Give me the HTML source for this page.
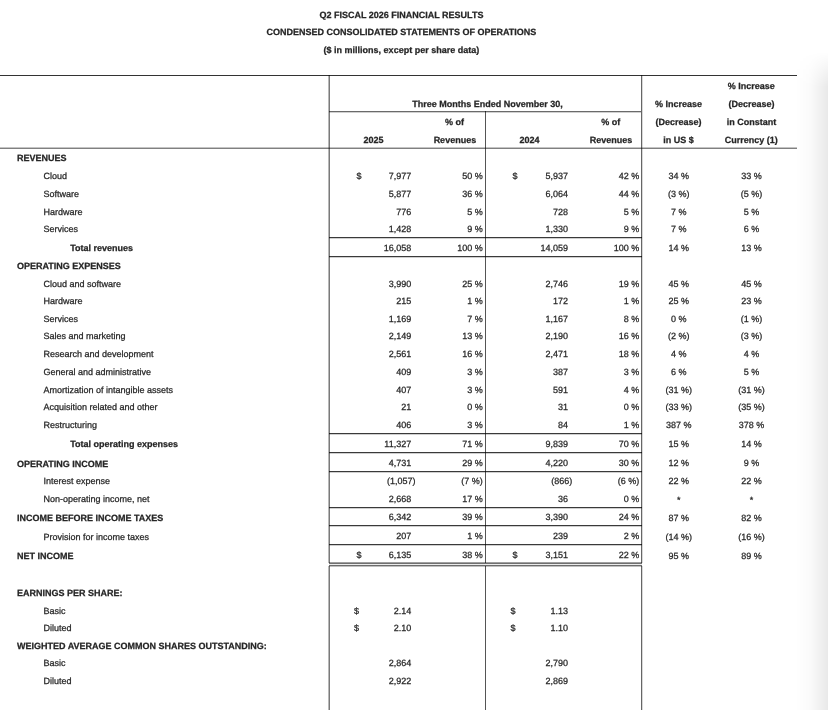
<!DOCTYPE html>
<html><head><meta charset="utf-8"><style>
html,body{margin:0;padding:0;}
body{width:828px;height:710px;position:relative;overflow:hidden;background:#fff;}
.t{position:absolute;font-family:"Liberation Sans",sans-serif;font-size:9px;line-height:10px;white-space:pre;color:#262626;text-rendering:geometricPrecision;-webkit-text-stroke:0.25px #262626;}
.b{font-weight:bold;}
.l{position:absolute;mix-blend-mode:multiply;}
.shade{position:absolute;left:796px;top:52px;width:32px;height:658px;background:linear-gradient(to right,rgba(0,0,0,0),rgba(0,0,0,0.02) 45%,rgba(0,0,0,0.085));-webkit-mask-image:linear-gradient(to bottom,transparent,#000 35px);mask-image:linear-gradient(to bottom,transparent,#000 35px);}
</style></head><body>
<div class="t b" style="left:251.39999999999998px;width:300px;text-align:center;top:9.600000000000001px;">Q2 FISCAL 2026 FINANCIAL RESULTS</div>
<div class="t b" style="left:251.39999999999998px;width:300px;text-align:center;top:27.299999999999997px;">CONDENSED CONSOLIDATED STATEMENTS OF OPERATIONS</div>
<div class="t b" style="left:251.39999999999998px;width:300px;text-align:center;top:45px;">($ in millions, except per share data)</div>
<div class="t b" style="left:601.3px;width:300px;text-align:center;top:80.9px;">% Increase</div>
<div class="t b" style="left:337.6px;width:300px;text-align:center;top:98.7px;">Three Months Ended November 30,</div>
<div class="t b" style="left:528.5px;width:300px;text-align:center;top:98.7px;">% Increase</div>
<div class="t b" style="left:601.5px;width:300px;text-align:center;top:98.7px;">(Decrease)</div>
<div class="t b" style="left:304.5px;width:300px;text-align:center;top:116.9px;">% of</div>
<div class="t b" style="left:460.79999999999995px;width:300px;text-align:center;top:116.9px;">% of</div>
<div class="t b" style="left:528.5px;width:300px;text-align:center;top:116.9px;">(Decrease)</div>
<div class="t b" style="left:601.5px;width:300px;text-align:center;top:116.9px;">in Constant</div>
<div class="t b" style="left:223.5px;width:300px;text-align:center;top:134.9px;">2025</div>
<div class="t b" style="left:304.9px;width:300px;text-align:center;top:134.9px;">Revenues</div>
<div class="t b" style="left:379.6px;width:300px;text-align:center;top:134.9px;">2024</div>
<div class="t b" style="left:461.0px;width:300px;text-align:center;top:134.9px;">Revenues</div>
<div class="t b" style="left:528.5px;width:300px;text-align:center;top:134.9px;">in US $</div>
<div class="t b" style="left:601.3px;width:300px;text-align:center;top:134.9px;">Currency (1)</div>
<div class="t b" style="left:17.0px;top:153px;">REVENUES</div>
<div class="t " style="left:43.4px;top:171px;">Cloud</div>
<div class="t " style="left:356.5px;top:171px;">$</div>
<div class="t " style="left:111.19999999999999px;width:300px;text-align:right;top:171px;">7,977</div>
<div class="t " style="left:182.8px;width:300px;text-align:right;top:171px;">50 %</div>
<div class="t " style="left:512.6px;top:171px;">$</div>
<div class="t " style="left:268.0px;width:300px;text-align:right;top:171px;">5,937</div>
<div class="t " style="left:339.20000000000005px;width:300px;text-align:right;top:171px;">42 %</div>
<div class="t " style="left:528.7px;width:300px;text-align:center;top:171px;">34 %</div>
<div class="t " style="left:601.5px;width:300px;text-align:center;top:171px;">33 %</div>
<div class="t " style="left:43.4px;top:189px;">Software</div>
<div class="t " style="left:111.19999999999999px;width:300px;text-align:right;top:189px;">5,877</div>
<div class="t " style="left:182.8px;width:300px;text-align:right;top:189px;">36 %</div>
<div class="t " style="left:268.0px;width:300px;text-align:right;top:189px;">6,064</div>
<div class="t " style="left:339.20000000000005px;width:300px;text-align:right;top:189px;">44 %</div>
<div class="t " style="left:528.7px;width:300px;text-align:center;top:189px;">(3 %)</div>
<div class="t " style="left:601.5px;width:300px;text-align:center;top:189px;">(5 %)</div>
<div class="t " style="left:43.4px;top:207px;">Hardware</div>
<div class="t " style="left:111.19999999999999px;width:300px;text-align:right;top:207px;">776</div>
<div class="t " style="left:182.8px;width:300px;text-align:right;top:207px;">5 %</div>
<div class="t " style="left:268.0px;width:300px;text-align:right;top:207px;">728</div>
<div class="t " style="left:339.20000000000005px;width:300px;text-align:right;top:207px;">5 %</div>
<div class="t " style="left:528.7px;width:300px;text-align:center;top:207px;">7 %</div>
<div class="t " style="left:601.5px;width:300px;text-align:center;top:207px;">5 %</div>
<div class="t " style="left:43.4px;top:224px;">Services</div>
<div class="t " style="left:111.19999999999999px;width:300px;text-align:right;top:224px;">1,428</div>
<div class="t " style="left:182.8px;width:300px;text-align:right;top:224px;">9 %</div>
<div class="t " style="left:268.0px;width:300px;text-align:right;top:224px;">1,330</div>
<div class="t " style="left:339.20000000000005px;width:300px;text-align:right;top:224px;">9 %</div>
<div class="t " style="left:528.7px;width:300px;text-align:center;top:224px;">7 %</div>
<div class="t " style="left:601.5px;width:300px;text-align:center;top:224px;">6 %</div>
<div class="t b" style="left:70.2px;top:243px;">Total revenues</div>
<div class="t " style="left:111.19999999999999px;width:300px;text-align:right;top:243px;">16,058</div>
<div class="t " style="left:182.8px;width:300px;text-align:right;top:243px;">100 %</div>
<div class="t " style="left:268.0px;width:300px;text-align:right;top:243px;">14,059</div>
<div class="t " style="left:339.20000000000005px;width:300px;text-align:right;top:243px;">100 %</div>
<div class="t " style="left:528.7px;width:300px;text-align:center;top:243px;">14 %</div>
<div class="t " style="left:601.5px;width:300px;text-align:center;top:243px;">13 %</div>
<div class="t b" style="left:17.0px;top:261px;">OPERATING EXPENSES</div>
<div class="t " style="left:43.4px;top:279px;">Cloud and software</div>
<div class="t " style="left:111.19999999999999px;width:300px;text-align:right;top:279px;">3,990</div>
<div class="t " style="left:182.8px;width:300px;text-align:right;top:279px;">25 %</div>
<div class="t " style="left:268.0px;width:300px;text-align:right;top:279px;">2,746</div>
<div class="t " style="left:339.20000000000005px;width:300px;text-align:right;top:279px;">19 %</div>
<div class="t " style="left:528.7px;width:300px;text-align:center;top:279px;">45 %</div>
<div class="t " style="left:601.5px;width:300px;text-align:center;top:279px;">45 %</div>
<div class="t " style="left:43.4px;top:296px;">Hardware</div>
<div class="t " style="left:111.19999999999999px;width:300px;text-align:right;top:296px;">215</div>
<div class="t " style="left:182.8px;width:300px;text-align:right;top:296px;">1 %</div>
<div class="t " style="left:268.0px;width:300px;text-align:right;top:296px;">172</div>
<div class="t " style="left:339.20000000000005px;width:300px;text-align:right;top:296px;">1 %</div>
<div class="t " style="left:528.7px;width:300px;text-align:center;top:296px;">25 %</div>
<div class="t " style="left:601.5px;width:300px;text-align:center;top:296px;">23 %</div>
<div class="t " style="left:43.4px;top:314px;">Services</div>
<div class="t " style="left:111.19999999999999px;width:300px;text-align:right;top:314px;">1,169</div>
<div class="t " style="left:182.8px;width:300px;text-align:right;top:314px;">7 %</div>
<div class="t " style="left:268.0px;width:300px;text-align:right;top:314px;">1,167</div>
<div class="t " style="left:339.20000000000005px;width:300px;text-align:right;top:314px;">8 %</div>
<div class="t " style="left:528.7px;width:300px;text-align:center;top:314px;">0 %</div>
<div class="t " style="left:601.5px;width:300px;text-align:center;top:314px;">(1 %)</div>
<div class="t " style="left:43.4px;top:331px;">Sales and marketing</div>
<div class="t " style="left:111.19999999999999px;width:300px;text-align:right;top:331px;">2,149</div>
<div class="t " style="left:182.8px;width:300px;text-align:right;top:331px;">13 %</div>
<div class="t " style="left:268.0px;width:300px;text-align:right;top:331px;">2,190</div>
<div class="t " style="left:339.20000000000005px;width:300px;text-align:right;top:331px;">16 %</div>
<div class="t " style="left:528.7px;width:300px;text-align:center;top:331px;">(2 %)</div>
<div class="t " style="left:601.5px;width:300px;text-align:center;top:331px;">(3 %)</div>
<div class="t " style="left:43.4px;top:349px;">Research and development</div>
<div class="t " style="left:111.19999999999999px;width:300px;text-align:right;top:349px;">2,561</div>
<div class="t " style="left:182.8px;width:300px;text-align:right;top:349px;">16 %</div>
<div class="t " style="left:268.0px;width:300px;text-align:right;top:349px;">2,471</div>
<div class="t " style="left:339.20000000000005px;width:300px;text-align:right;top:349px;">18 %</div>
<div class="t " style="left:528.7px;width:300px;text-align:center;top:349px;">4 %</div>
<div class="t " style="left:601.5px;width:300px;text-align:center;top:349px;">4 %</div>
<div class="t " style="left:43.4px;top:367px;">General and administrative</div>
<div class="t " style="left:111.19999999999999px;width:300px;text-align:right;top:367px;">409</div>
<div class="t " style="left:182.8px;width:300px;text-align:right;top:367px;">3 %</div>
<div class="t " style="left:268.0px;width:300px;text-align:right;top:367px;">387</div>
<div class="t " style="left:339.20000000000005px;width:300px;text-align:right;top:367px;">3 %</div>
<div class="t " style="left:528.7px;width:300px;text-align:center;top:367px;">6 %</div>
<div class="t " style="left:601.5px;width:300px;text-align:center;top:367px;">5 %</div>
<div class="t " style="left:43.4px;top:385px;">Amortization of intangible assets</div>
<div class="t " style="left:111.19999999999999px;width:300px;text-align:right;top:385px;">407</div>
<div class="t " style="left:182.8px;width:300px;text-align:right;top:385px;">3 %</div>
<div class="t " style="left:268.0px;width:300px;text-align:right;top:385px;">591</div>
<div class="t " style="left:339.20000000000005px;width:300px;text-align:right;top:385px;">4 %</div>
<div class="t " style="left:528.7px;width:300px;text-align:center;top:385px;">(31 %)</div>
<div class="t " style="left:601.5px;width:300px;text-align:center;top:385px;">(31 %)</div>
<div class="t " style="left:43.4px;top:402px;">Acquisition related and other</div>
<div class="t " style="left:111.19999999999999px;width:300px;text-align:right;top:402px;">21</div>
<div class="t " style="left:182.8px;width:300px;text-align:right;top:402px;">0 %</div>
<div class="t " style="left:268.0px;width:300px;text-align:right;top:402px;">31</div>
<div class="t " style="left:339.20000000000005px;width:300px;text-align:right;top:402px;">0 %</div>
<div class="t " style="left:528.7px;width:300px;text-align:center;top:402px;">(33 %)</div>
<div class="t " style="left:601.5px;width:300px;text-align:center;top:402px;">(35 %)</div>
<div class="t " style="left:43.4px;top:420px;">Restructuring</div>
<div class="t " style="left:111.19999999999999px;width:300px;text-align:right;top:420px;">406</div>
<div class="t " style="left:182.8px;width:300px;text-align:right;top:420px;">3 %</div>
<div class="t " style="left:268.0px;width:300px;text-align:right;top:420px;">84</div>
<div class="t " style="left:339.20000000000005px;width:300px;text-align:right;top:420px;">1 %</div>
<div class="t " style="left:528.7px;width:300px;text-align:center;top:420px;">387 %</div>
<div class="t " style="left:601.5px;width:300px;text-align:center;top:420px;">378 %</div>
<div class="t b" style="left:70.2px;top:439px;">Total operating expenses</div>
<div class="t " style="left:111.19999999999999px;width:300px;text-align:right;top:439px;">11,327</div>
<div class="t " style="left:182.8px;width:300px;text-align:right;top:439px;">71 %</div>
<div class="t " style="left:268.0px;width:300px;text-align:right;top:439px;">9,839</div>
<div class="t " style="left:339.20000000000005px;width:300px;text-align:right;top:439px;">70 %</div>
<div class="t " style="left:528.7px;width:300px;text-align:center;top:439px;">15 %</div>
<div class="t " style="left:601.5px;width:300px;text-align:center;top:439px;">14 %</div>
<div class="t b" style="left:17.0px;top:459px;">OPERATING INCOME</div>
<div class="t " style="left:111.19999999999999px;width:300px;text-align:right;top:458px;">4,731</div>
<div class="t " style="left:182.8px;width:300px;text-align:right;top:458px;">29 %</div>
<div class="t " style="left:268.0px;width:300px;text-align:right;top:458px;">4,220</div>
<div class="t " style="left:339.20000000000005px;width:300px;text-align:right;top:458px;">30 %</div>
<div class="t " style="left:528.7px;width:300px;text-align:center;top:458px;">12 %</div>
<div class="t " style="left:601.5px;width:300px;text-align:center;top:458px;">9 %</div>
<div class="t " style="left:43.4px;top:476px;">Interest expense</div>
<div class="t " style="left:115.5px;width:300px;text-align:right;top:476px;">(1,057)</div>
<div class="t " style="left:182.8px;width:300px;text-align:right;top:476px;">(7 %)</div>
<div class="t " style="left:272.29999999999995px;width:300px;text-align:right;top:476px;">(866)</div>
<div class="t " style="left:339.20000000000005px;width:300px;text-align:right;top:476px;">(6 %)</div>
<div class="t " style="left:528.7px;width:300px;text-align:center;top:476px;">22 %</div>
<div class="t " style="left:601.5px;width:300px;text-align:center;top:476px;">22 %</div>
<div class="t " style="left:43.4px;top:494px;">Non-operating income, net</div>
<div class="t " style="left:111.19999999999999px;width:300px;text-align:right;top:494px;">2,668</div>
<div class="t " style="left:182.8px;width:300px;text-align:right;top:494px;">17 %</div>
<div class="t " style="left:268.0px;width:300px;text-align:right;top:494px;">36</div>
<div class="t " style="left:339.20000000000005px;width:300px;text-align:right;top:494px;">0 %</div>
<div class="t " style="left:528.7px;width:300px;text-align:center;top:495px;">*</div>
<div class="t " style="left:601.5px;width:300px;text-align:center;top:495px;">*</div>
<div class="t b" style="left:17.0px;top:513px;">INCOME BEFORE INCOME TAXES</div>
<div class="t " style="left:111.19999999999999px;width:300px;text-align:right;top:512px;">6,342</div>
<div class="t " style="left:182.8px;width:300px;text-align:right;top:512px;">39 %</div>
<div class="t " style="left:268.0px;width:300px;text-align:right;top:512px;">3,390</div>
<div class="t " style="left:339.20000000000005px;width:300px;text-align:right;top:512px;">24 %</div>
<div class="t " style="left:528.7px;width:300px;text-align:center;top:513px;">87 %</div>
<div class="t " style="left:601.5px;width:300px;text-align:center;top:513px;">82 %</div>
<div class="t " style="left:43.4px;top:532px;">Provision for income taxes</div>
<div class="t " style="left:111.19999999999999px;width:300px;text-align:right;top:531px;">207</div>
<div class="t " style="left:182.8px;width:300px;text-align:right;top:531px;">1 %</div>
<div class="t " style="left:268.0px;width:300px;text-align:right;top:531px;">239</div>
<div class="t " style="left:339.20000000000005px;width:300px;text-align:right;top:531px;">2 %</div>
<div class="t " style="left:528.7px;width:300px;text-align:center;top:532px;">(14 %)</div>
<div class="t " style="left:601.5px;width:300px;text-align:center;top:532px;">(16 %)</div>
<div class="t b" style="left:17.0px;top:551px;">NET INCOME</div>
<div class="t " style="left:356.5px;top:550px;">$</div>
<div class="t " style="left:111.19999999999999px;width:300px;text-align:right;top:550px;">6,135</div>
<div class="t " style="left:182.8px;width:300px;text-align:right;top:550px;">38 %</div>
<div class="t " style="left:512.6px;top:550px;">$</div>
<div class="t " style="left:268.0px;width:300px;text-align:right;top:550px;">3,151</div>
<div class="t " style="left:339.20000000000005px;width:300px;text-align:right;top:550px;">22 %</div>
<div class="t " style="left:528.7px;width:300px;text-align:center;top:551px;">95 %</div>
<div class="t " style="left:601.5px;width:300px;text-align:center;top:551px;">89 %</div>
<div class="t b" style="left:17.0px;top:588px;">EARNINGS PER SHARE:</div>
<div class="t " style="left:43.4px;top:606px;">Basic</div>
<div class="t " style="left:354.0px;top:606px;">$</div>
<div class="t " style="left:111.19999999999999px;width:300px;text-align:right;top:606px;">2.14</div>
<div class="t " style="left:510.4px;top:606px;">$</div>
<div class="t " style="left:268.0px;width:300px;text-align:right;top:606px;">1.13</div>
<div class="t " style="left:43.4px;top:623px;">Diluted</div>
<div class="t " style="left:354.0px;top:623px;">$</div>
<div class="t " style="left:111.19999999999999px;width:300px;text-align:right;top:623px;">2.10</div>
<div class="t " style="left:510.4px;top:623px;">$</div>
<div class="t " style="left:268.0px;width:300px;text-align:right;top:623px;">1.10</div>
<div class="t b" style="left:17.0px;top:641px;">WEIGHTED AVERAGE COMMON SHARES OUTSTANDING:</div>
<div class="t " style="left:43.4px;top:658px;">Basic</div>
<div class="t " style="left:111.19999999999999px;width:300px;text-align:right;top:658px;">2,864</div>
<div class="t " style="left:268.0px;width:300px;text-align:right;top:658px;">2,790</div>
<div class="t " style="left:43.4px;top:676px;">Diluted</div>
<div class="t " style="left:111.19999999999999px;width:300px;text-align:right;top:676px;">2,922</div>
<div class="t " style="left:268.0px;width:300px;text-align:right;top:676px;">2,869</div>
<div class="l" style="left:0px;top:75px;width:797px;height:1px;background:#333"></div>
<div class="l" style="left:0px;top:147px;width:797px;height:1px;background:#c4c4c4"></div>
<div class="l" style="left:0px;top:148px;width:797px;height:1px;background:#808080"></div>
<div class="l" style="left:329px;top:111px;width:312px;height:1px;background:#6a6a6a"></div>
<div class="l" style="left:329px;top:112px;width:312px;height:1px;background:#d0d0d0"></div>
<div class="l" style="left:328px;top:75px;width:1px;height:488px;background:#b8b8b8"></div>
<div class="l" style="left:329px;top:75px;width:1px;height:488px;background:#7a7a7a"></div>
<div class="l" style="left:485px;top:111px;width:1px;height:452px;background:#555"></div>
<div class="l" style="left:641px;top:75px;width:1px;height:488px;background:#666"></div>
<div class="l" style="left:642px;top:75px;width:1px;height:488px;background:#d8d8d8"></div>
<div class="l" style="left:329px;top:237px;width:313px;height:1px;background:#3a3a3a"></div>
<div class="l" style="left:329px;top:238px;width:313px;height:1px;background:#cfcfcf"></div>
<div class="l" style="left:329px;top:256px;width:313px;height:1px;background:#3a3a3a"></div>
<div class="l" style="left:329px;top:257px;width:313px;height:1px;background:#cfcfcf"></div>
<div class="l" style="left:329px;top:433px;width:313px;height:1px;background:#3a3a3a"></div>
<div class="l" style="left:329px;top:434px;width:313px;height:1px;background:#cfcfcf"></div>
<div class="l" style="left:329px;top:452px;width:313px;height:1px;background:#3a3a3a"></div>
<div class="l" style="left:329px;top:453px;width:313px;height:1px;background:#cfcfcf"></div>
<div class="l" style="left:329px;top:471px;width:313px;height:1px;background:#3a3a3a"></div>
<div class="l" style="left:329px;top:472px;width:313px;height:1px;background:#cfcfcf"></div>
<div class="l" style="left:329px;top:507px;width:313px;height:1px;background:#3a3a3a"></div>
<div class="l" style="left:329px;top:508px;width:313px;height:1px;background:#cfcfcf"></div>
<div class="l" style="left:329px;top:525px;width:313px;height:1px;background:#3a3a3a"></div>
<div class="l" style="left:329px;top:526px;width:313px;height:1px;background:#cfcfcf"></div>
<div class="l" style="left:329px;top:544px;width:313px;height:1px;background:#3a3a3a"></div>
<div class="l" style="left:329px;top:545px;width:313px;height:1px;background:#cfcfcf"></div>
<div class="l" style="left:329px;top:562px;width:313px;height:1px;background:#a0a0a0"></div>
<div class="l" style="left:329px;top:563px;width:313px;height:1px;background:#707070"></div>
<div class="l" style="left:329px;top:564px;width:313px;height:1px;background:#ececec"></div>
<div class="l" style="left:329px;top:565px;width:313px;height:1px;background:#6c6c6c"></div>
<div class="l" style="left:329px;top:566px;width:313px;height:1px;background:#c0c0c0"></div>
<div class="l" style="left:328px;top:566px;width:1px;height:144px;background:#b8b8b8"></div>
<div class="l" style="left:329px;top:566px;width:1px;height:144px;background:#7a7a7a"></div>
<div class="l" style="left:485px;top:566px;width:1px;height:144px;background:#555"></div>
<div class="l" style="left:641px;top:566px;width:1px;height:144px;background:#666"></div>
<div class="l" style="left:642px;top:566px;width:1px;height:144px;background:#d8d8d8"></div>
<div class="shade"></div>
</body></html>
